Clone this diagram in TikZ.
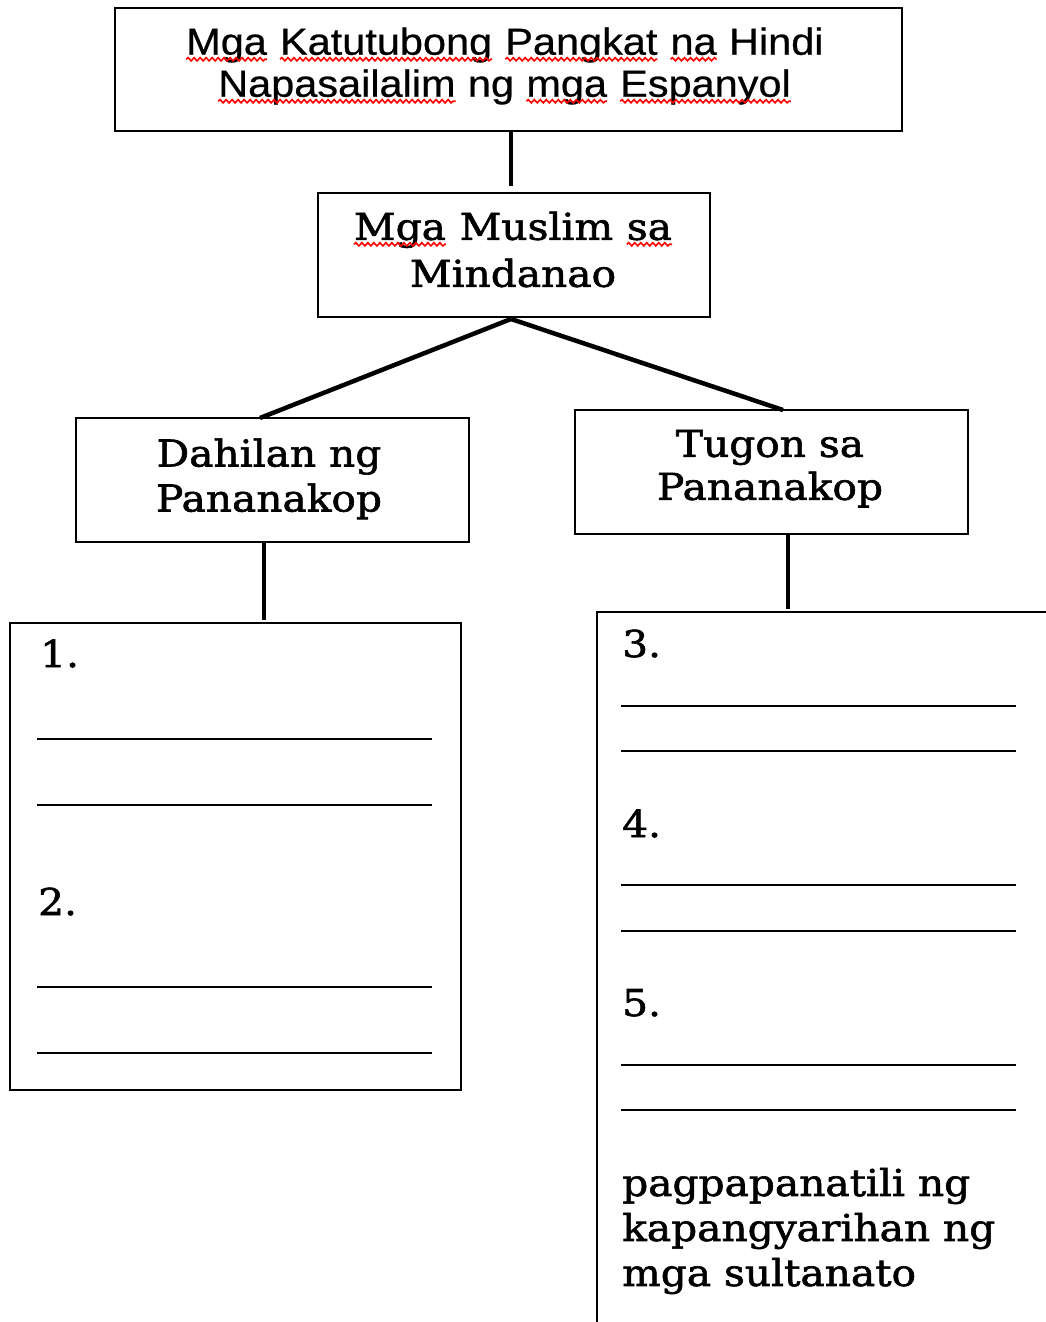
\documentclass[tikz,border=0pt]{standalone}
\usepackage{fontspec}
\setmainfont{DejaVu Serif}[FakeStretch=1.1,FakeBold=1.6]
\newfontfamily\arialf{Liberation Sans}[FakeStretch=1.1,FakeBold=0.6]
\usetikzlibrary{decorations.pathmorphing}
\newcommand\spell[1]{\tikz[baseline=(sw.base)]{\node[inner sep=0pt,outer sep=0pt,minimum size=0pt,anchor=base] (sw) at (0,0) {#1};\draw[red,line width=1.6pt,decorate,decoration={snake,amplitude=1.6pt,segment length=6pt}] ([yshift=-4.5pt]sw.base west) -- ([yshift=-4.5pt]sw.base east);}}
\begin{document}
\begin{tikzpicture}[x=1pt,y=-1pt,
  box/.style={draw,line width=2.3pt,inner sep=0pt,outer sep=0pt},
  conn/.style={line width=4.5pt},
  blank/.style={line width=2pt},
  sanstxt/.style={font=\arialf\fontsize{37.7}{42}\selectfont,align=center,inner sep=0pt},
  sertxt/.style={font=\fontsize{37}{45}\selectfont,inner sep=0pt}]
\clip (0,0) rectangle (1046,1322);
\fill[white] (0,0) rectangle (1046,1322);
% boxes
\node[box,minimum width=787pt,minimum height=123pt] (b1) at (508.5,69.5) {};
\node[box,minimum width=392pt,minimum height=124pt] (b2) at (514,255) {};
\node[box,minimum width=393pt,minimum height=124pt] (b3) at (272.5,480) {};
\node[box,minimum width=393pt,minimum height=124pt] (b4) at (771.5,472) {};
\node[box,minimum width=451pt,minimum height=467pt] (b5) at (235.5,856.5) {};
\node[box,minimum width=503pt,minimum height=788pt] (b6) at (848.5,1006) {};
% texts
\node[sanstxt] (t1) at (504.5,66) {\spell{Mga} \spell{Katutubong} \spell{Pangkat} \spell{na} Hindi\\\spell{Napasailalim} ng \spell{mga} \spell{Espanyol}};
\node[sertxt,align=center,font=\fontsize{37}{47}\selectfont] (t2) at (513,249.5) {\spell{Mga} Muslim \spell{sa}\\Mindanao};
\node[sertxt,align=center] (t3) at (269,478.8) {Dahilan ng\\Pananakop};
\node[sertxt,align=center,font=\fontsize{37}{43}\selectfont] (t4) at (770,468.7) {Tugon sa\\Pananakop};
\node[sertxt,anchor=base west] (n1) at (40,667) {1.};
\node[sertxt,anchor=base west] (n2) at (38,915) {2.};
\node[sertxt,anchor=base west] (n3) at (622,657) {3.};
\node[sertxt,anchor=base west] (n4) at (622,837) {4.};
\node[sertxt,anchor=base west] (n5) at (622,1016) {5.};
\node[sertxt,align=left,anchor=west] (t6) at (622,1231) {pagpapanatili ng\\kapangyarihan ng\\mga sultanato};
% connectors
\draw[conn,shorten >=7pt] ([xshift=2.5pt]b1.south) -- ([xshift=-3pt]b2.north);
\draw[conn] ([xshift=-3pt,yshift=-2pt]b2.south) -- ([xshift=-12.5pt]b3.north);
\draw[conn] ([xshift=-3pt,yshift=-2pt]b2.south) -- ([xshift=11.5pt]b4.north);
\draw[conn,shorten >=3pt] ([xshift=-8.5pt]b3.south) -- ([xshift=28.5pt]b5.north);
\draw[conn,shorten >=3pt] ([xshift=16.5pt]b4.south) -- ([xshift=-60.5pt]b6.north);
% blank lines
\foreach \yy in {739,805,987,1053} \draw[blank] (37,\yy) -- (432,\yy);
\foreach \yy in {706,751,885,931,1065,1110} \draw[blank] (621,\yy) -- (1016,\yy);
\end{tikzpicture}
\end{document}
